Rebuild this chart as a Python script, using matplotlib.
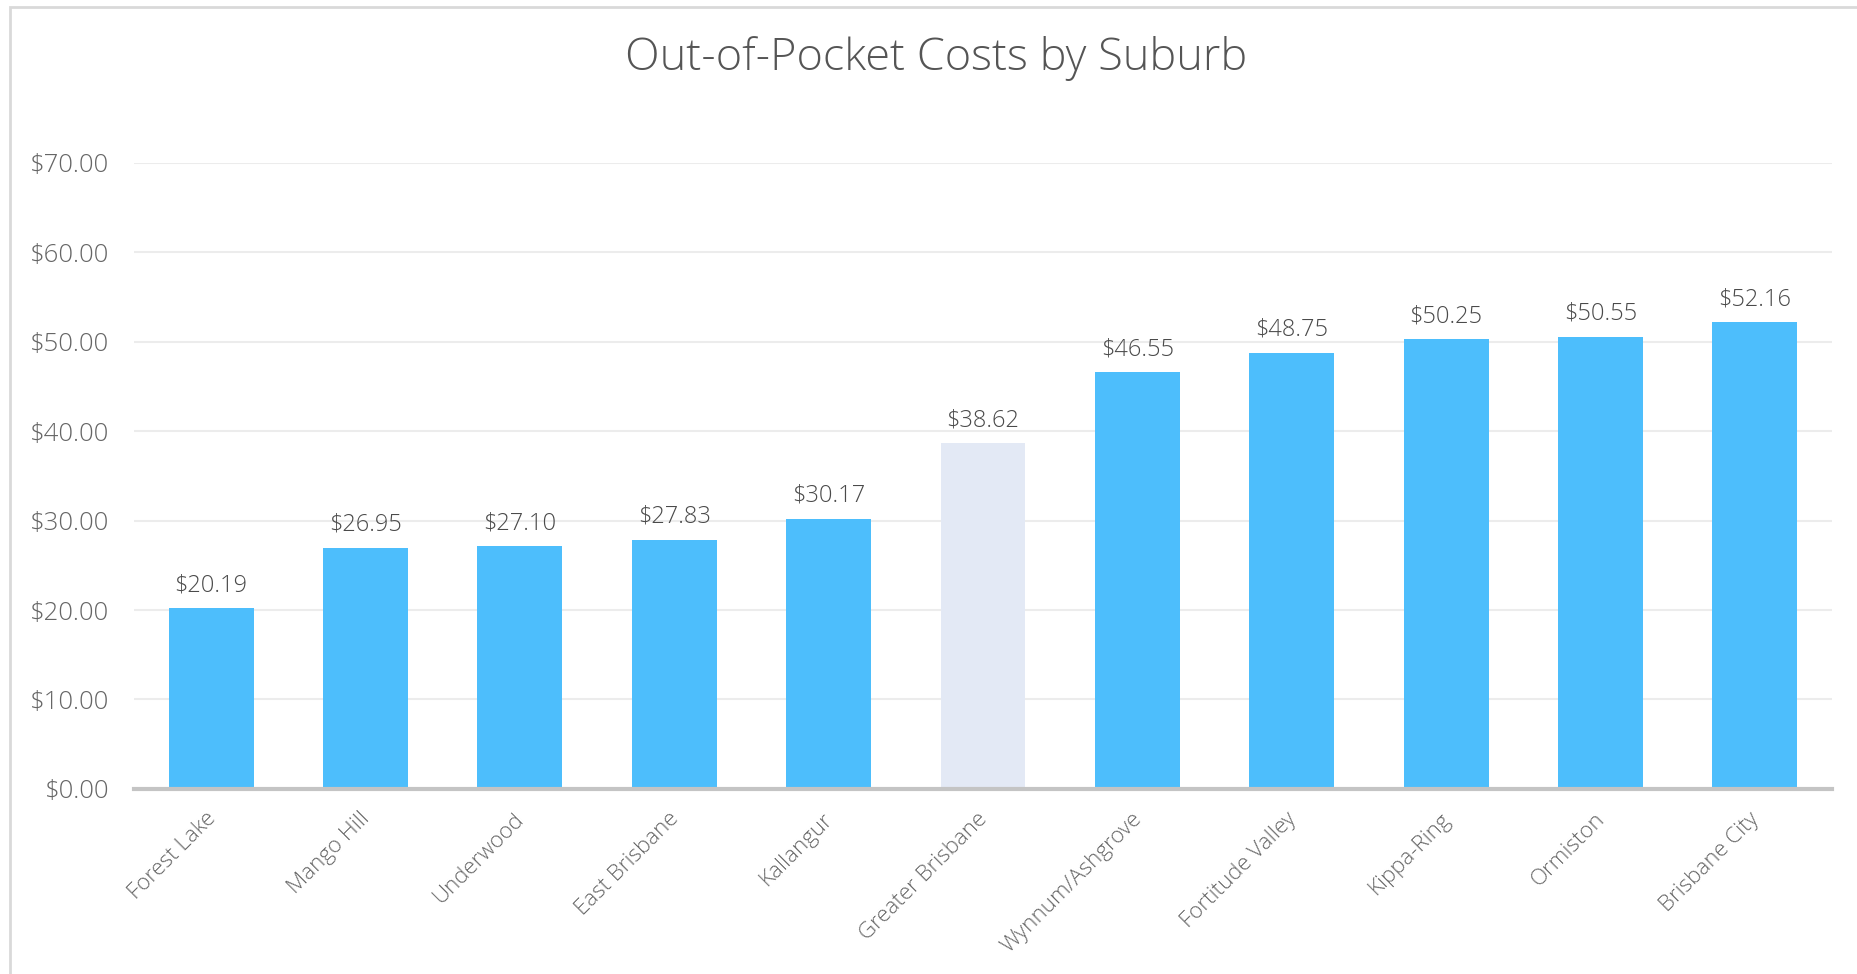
import matplotlib
matplotlib.use("Agg")
import matplotlib.pyplot as plt
from matplotlib.patches import Rectangle
from matplotlib.ticker import FuncFormatter
from matplotlib.transforms import ScaledTranslation

plt.rcParams['font.family'] = ['Open Sans', 'DejaVu Sans']

suburbs = ["Forest Lake", "Mango Hill", "Underwood", "East Brisbane", "Kallangur",
           "Greater Brisbane", "Wynnum/Ashgrove", "Fortitude Valley", "Kippa-Ring",
           "Ormiston", "Brisbane City"]
costs = [20.19, 26.95, 27.10, 27.83, 30.17, 38.62, 46.55, 48.75, 50.25, 50.55, 52.16]
highlight = "Greater Brisbane"
yticks = [0, 10, 20, 30, 40, 50, 60, 70]

blue = "#4dbefc"
pale = "#e3e9f5"
txt = "#666666"

fig = plt.figure(figsize=(18.58, 9.74), dpi=100)
ax = fig.add_axes([0.0721, 0.19, 0.9139, 0.643])

colors = [pale if s == highlight else blue for s in suburbs]
x = range(len(suburbs))
bars = ax.bar(x, costs, width=0.55, color=colors, zorder=3)

for b, v in zip(bars, costs):
    ax.annotate("${:.2f}".format(v), (b.get_x() + b.get_width() / 2, v),
                xytext=(0, 8), textcoords="offset points", ha="center", va="bottom",
                fontsize=17, color="#4a4a4a", fontweight="light")

ax.set_xlim(-0.5, len(suburbs) - 0.5)
ax.set_ylim(0, 70)
ax.set_yticks(yticks)
ax.yaxis.set_major_formatter(FuncFormatter(lambda v, p: "${:.2f}".format(v)))
ax.tick_params(axis="y", length=0, pad=18, labelsize=18.5, labelcolor=txt)
for lab in ax.get_yticklabels():
    lab.set_fontweight("light")
ax.set_xticks(list(x))
ax.set_xticklabels(suburbs, rotation=45, ha="right", rotation_mode="anchor",
                   fontsize=16, color=txt, fontweight="light")
ax.tick_params(axis="x", length=0, pad=14)
shift = ScaledTranslation(-6 / 100, 0, fig.dpi_scale_trans)
for lab in ax.get_xticklabels():
    lab.set_transform(lab.get_transform() + shift)

ax.grid(axis="y", color="#ececec", linewidth=1.5, zorder=0)
for s in ["top", "right", "left"]:
    ax.spines[s].set_visible(False)
ax.spines["bottom"].set_color("#c4c4c4")
ax.spines["bottom"].set_linewidth(3)
ax.spines["bottom"].set_zorder(4)

# outer frame (only top and left edges fall inside the image)
fig.add_artist(Rectangle((10 / 1858, -0.1), 1.2, 1.1 - 7 / 974, transform=fig.transFigure,
                         fill=False, edgecolor="#d9d9d9", linewidth=2))

fig.text(0.504, 0.94, "Out-of-Pocket Costs by Suburb", ha="center", va="center",
         fontsize=32.5, color="#555555", fontweight="light")

fig.savefig("out.png", dpi=100)
